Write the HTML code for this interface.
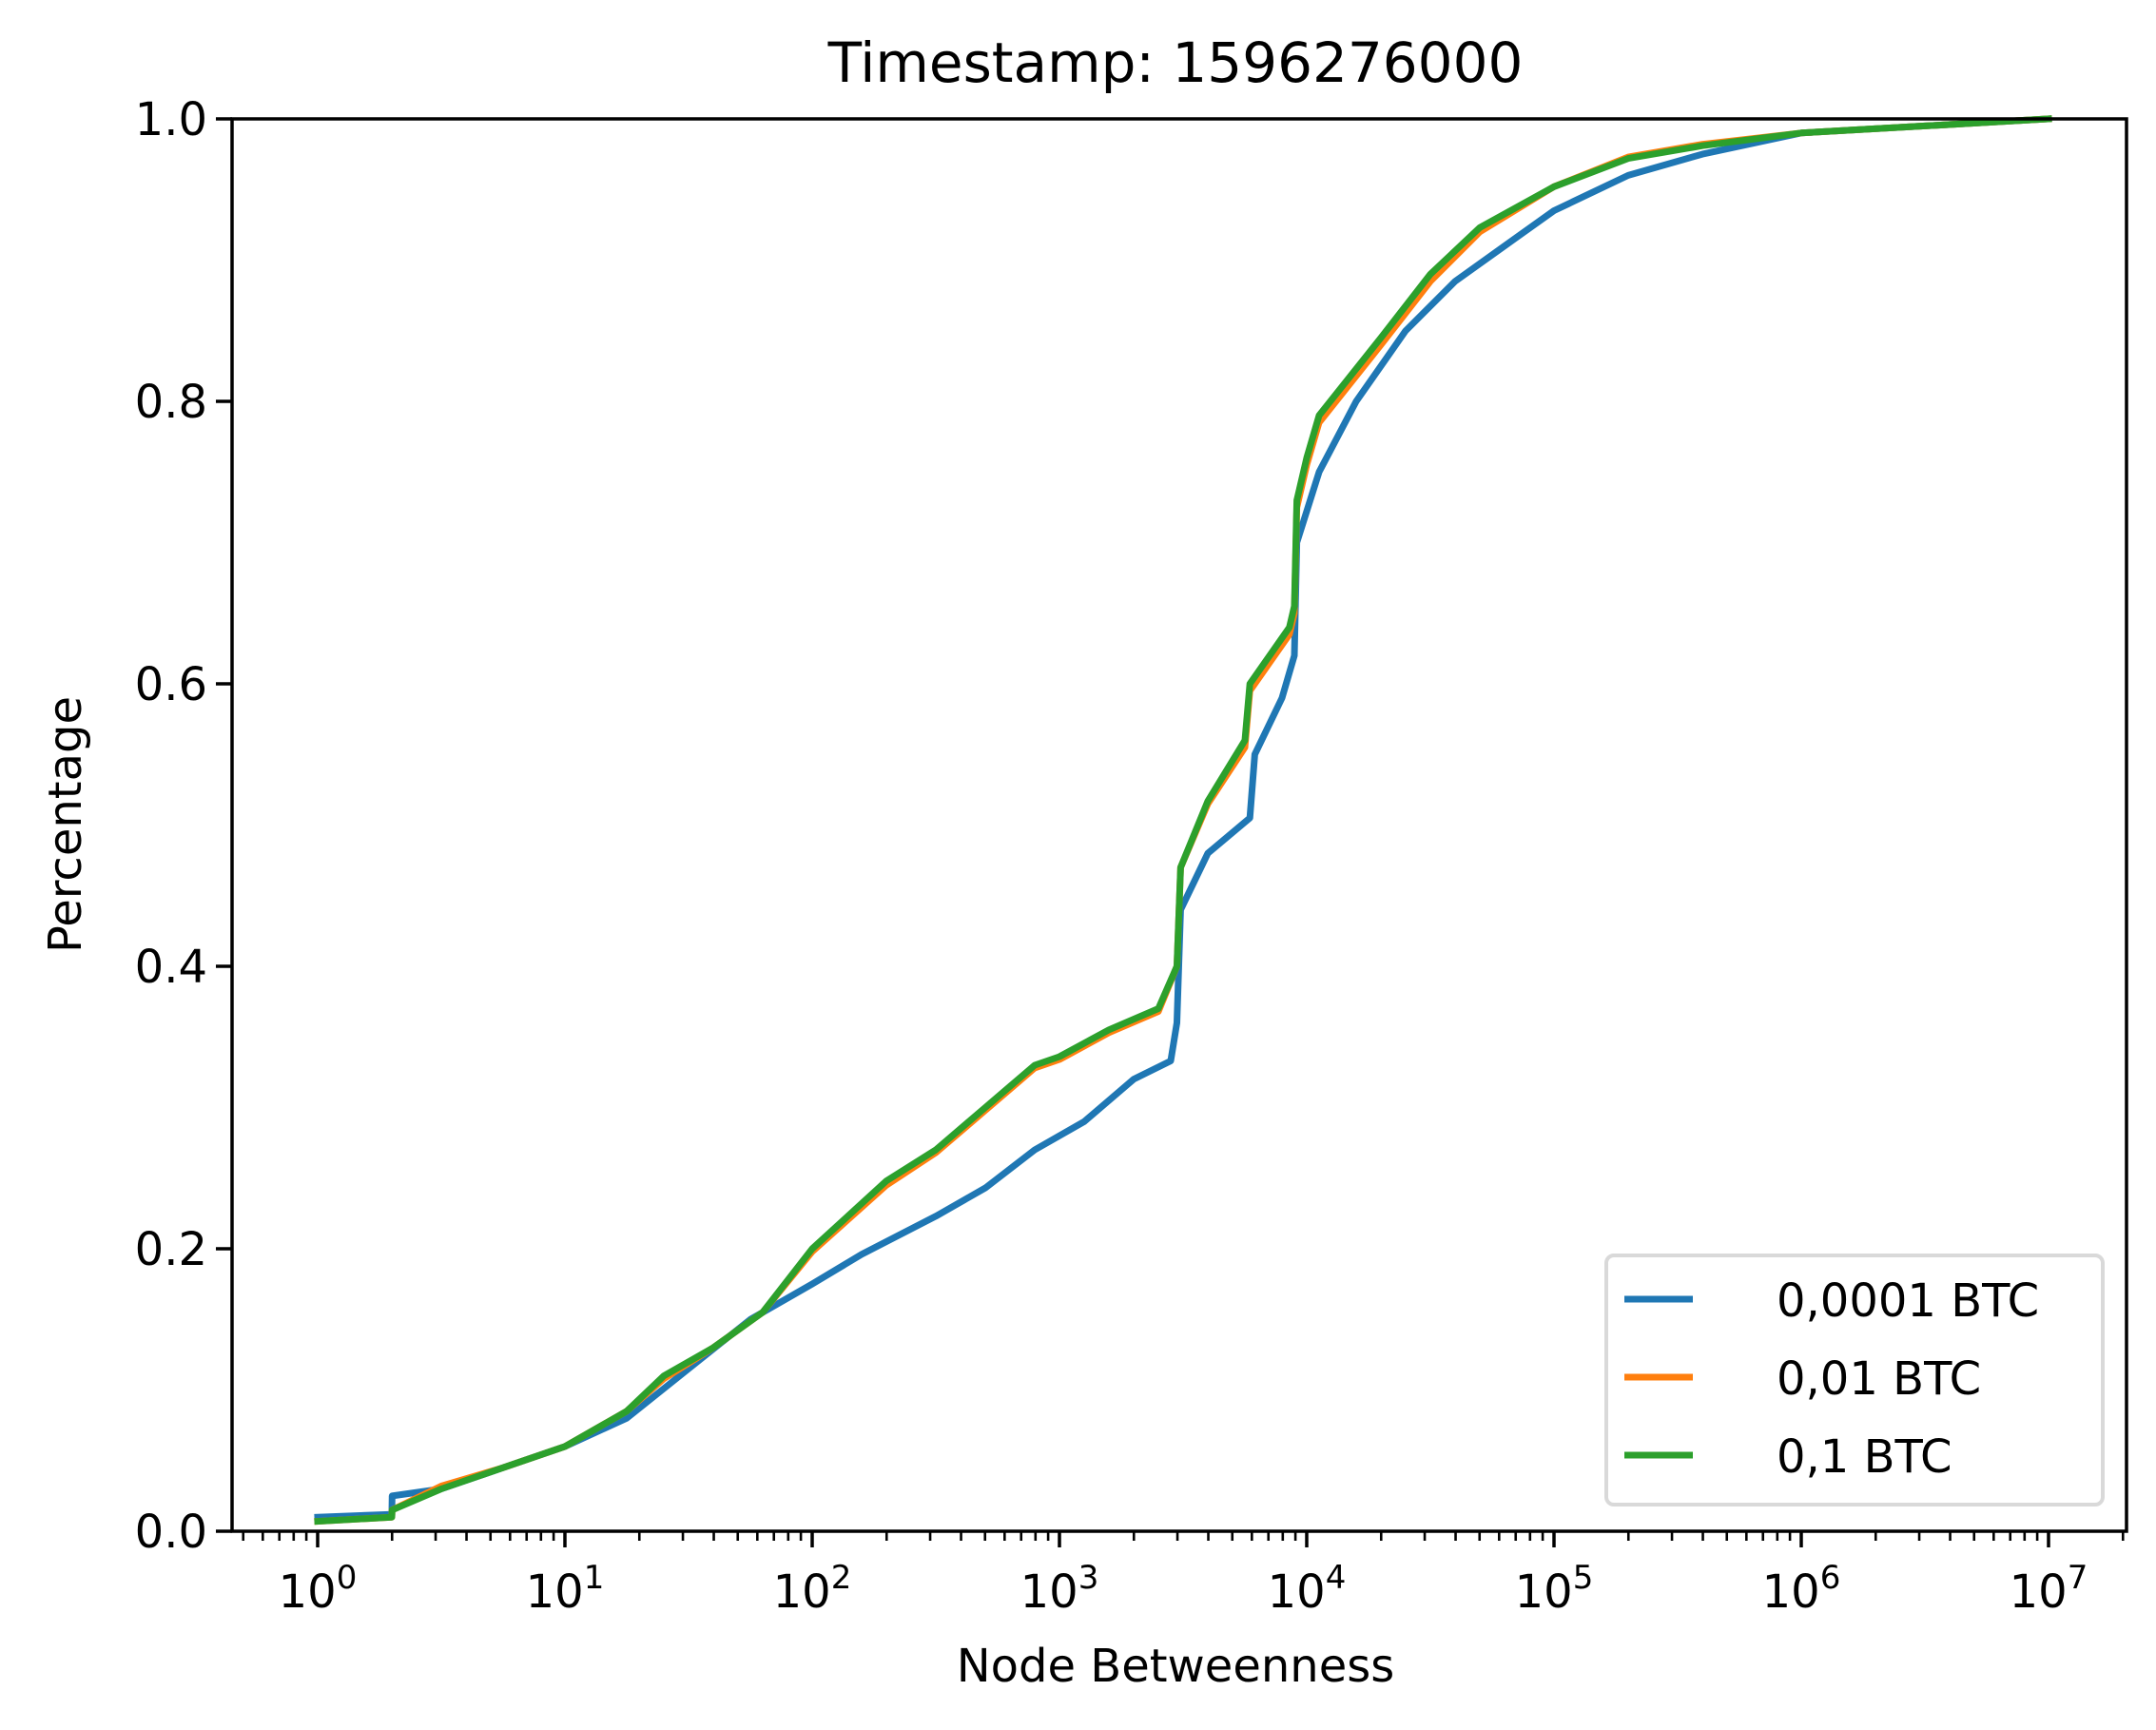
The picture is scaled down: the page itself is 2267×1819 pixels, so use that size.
<!DOCTYPE html>
<html><head><meta charset="utf-8"><style>
html,body{margin:0;padding:0;background:#fff}
svg text{font-family:"DejaVu Sans","Liberation Sans",sans-serif;fill:#000}
</style></head><body>
<svg id="chart" width="2267" height="1814" xmlns="http://www.w3.org/2000/svg">
<rect width="2267" height="1814" fill="#fff"/>
<text x="1236" y="86" font-size="58" text-anchor="middle">Timestamp: 1596276000</text>
<g id="marks"></g>
<g id="axes"></g>
<text x="1236" y="1768" font-size="48" text-anchor="middle">Node Betweenness</text>
<text transform="translate(85,867) rotate(-90)" font-size="48" text-anchor="middle">Percentage</text>
<g>
<rect x="1689" y="1320" width="522" height="262" rx="8" fill="#fff" stroke="#d9d9d9" stroke-width="4" fill-opacity="0.8"/>
<line x1="1708" y1="1366" x2="1780" y2="1366" stroke="#1f77b4" stroke-width="7"/>
<text x="1868" y="1384" font-size="48">0,0001 BTC</text>
<line x1="1708" y1="1448" x2="1780" y2="1448" stroke="#ff7f0e" stroke-width="7"/>
<text x="1868" y="1466" font-size="48">0,01 BTC</text>
<line x1="1708" y1="1530" x2="1780" y2="1530" stroke="#2ca02c" stroke-width="7"/>
<text x="1868" y="1548" font-size="48">0,1 BTC</text>
</g>
</svg>
<script>
const blueX=[0,0.3,0.301,0.5,0.75,1.0,1.25,1.5,1.75,2.0,2.2,2.5,2.7,2.9,3.1,3.3,3.45,3.475,3.49,3.6,3.77,3.79,3.9,3.95,3.96,4.05,4.2,4.4,4.6,4.8,5.0,5.3,5.6,6.0,7.0];
const blueY=[0.01,0.012,0.025,0.03,0.045,0.06,0.08,0.115,0.15,0.175,0.196,0.223,0.243,0.27,0.29,0.32,0.333,0.36,0.44,0.48,0.505,0.55,0.59,0.62,0.70,0.75,0.80,0.85,0.885,0.91,0.935,0.96,0.975,0.99,1.0];
const orangeX=[0,0.3,0.301,0.5,0.75,1.0,1.25,1.4,1.6,1.8,2.0,2.3,2.5,2.7,2.9,3.0,3.2,3.4,3.475,3.49,3.6,3.75,3.77,3.93,3.95,3.96,4.0,4.05,4.3,4.5,4.7,5.0,5.3,5.6,6.0,7.0];
const orangeY=[0.007,0.01,0.015,0.032,0.045,0.06,0.085,0.108,0.13,0.155,0.198,0.245,0.268,0.298,0.328,0.334,0.353,0.368,0.40,0.47,0.515,0.555,0.595,0.635,0.65,0.725,0.755,0.785,0.84,0.885,0.92,0.952,0.973,0.982,0.99,1.0];
const greenX=[0,0.3,0.301,0.5,0.75,1.0,1.25,1.4,1.6,1.8,2.0,2.3,2.5,2.7,2.9,3.0,3.2,3.4,3.475,3.49,3.6,3.75,3.77,3.93,3.95,3.96,4.0,4.05,4.3,4.5,4.7,5.0,5.3,5.6,6.0,7.0];
const greenY=[0.007,0.01,0.015,0.03,0.045,0.06,0.085,0.11,0.13,0.155,0.2,0.248,0.27,0.3,0.33,0.336,0.355,0.37,0.40,0.47,0.517,0.56,0.6,0.64,0.655,0.73,0.76,0.79,0.845,0.89,0.923,0.952,0.972,0.981,0.99,1.0];
const yTicks=[0,0.2,0.4,0.6,0.8,1.0];
const yTickLabels=["0.0","0.2","0.4","0.6","0.8","1.0"];
const xDecades=[0,1,2,3,4,5,6,7];

const L=244,R=2236,T=125,B=1610,X0=334,DEC=260;
const NS="http://www.w3.org/2000/svg";
function sx(l){return X0+l*DEC;}
function sy(v){return B-(B-T)*v;}
function mk(tag,attrs,parent){const e=document.createElementNS(NS,tag);for(const k in attrs)e.setAttribute(k,attrs[k]);parent.appendChild(e);return e;}
const marks=document.getElementById('marks'),axes=document.getElementById('axes');
function series(xs,ys,color,name){
  const pts=xs.map((x,i)=>sx(x).toFixed(1)+','+sy(ys[i]).toFixed(1)).join(' ');
  const p=mk('polyline',{points:pts,fill:'none',stroke:color,'stroke-width':7,'stroke-linejoin':'round','stroke-linecap':'square'},marks);
  
  
}
series(blueX,blueY,'#1f77b4','line-0001-btc');
series(orangeX,orangeY,'#ff7f0e','line-001-btc');
series(greenX,greenY,'#2ca02c','line-01-btc');
const frame=mk('rect',{x:L,y:T,width:R-L,height:B-T,fill:'none',stroke:'#000','stroke-width':3.5},axes);


yTicks.forEach((v,i)=>{
  mk('line',{x1:L-17,y1:sy(v),x2:L,y2:sy(v),stroke:'#000','stroke-width':3.5},axes);
  const t=mk('text',{x:L-26,y:sy(v)+17,'font-size':48,'text-anchor':'end'},axes);
  t.textContent=yTickLabels[i];
  
  
});
const lmin=(L-X0)/DEC,lmax=(R-X0)/DEC;
for(let d=-1;d<=7;d++){for(let m=2;m<=9;m++){const l=d+Math.log10(m);if(l>lmin&&l<lmax)mk('line',{x1:sx(l),y1:B,x2:sx(l),y2:B+10,stroke:'#000','stroke-width':2.6},axes);}}
xDecades.forEach(d=>{
  mk('line',{x1:sx(d),y1:B,x2:sx(d),y2:B+17,stroke:'#000','stroke-width':3.5},axes);
  const t=mk('text',{x:sx(d),y:1690,'font-size':48,'text-anchor':'middle'},axes);
  
  
  const a=document.createElementNS(NS,'tspan');a.textContent='10';t.appendChild(a);
  const b=document.createElementNS(NS,'tspan');b.setAttribute('dy','-20');b.setAttribute('font-size','34');b.textContent=String(d);t.appendChild(b);
});
</script>
</body></html>
